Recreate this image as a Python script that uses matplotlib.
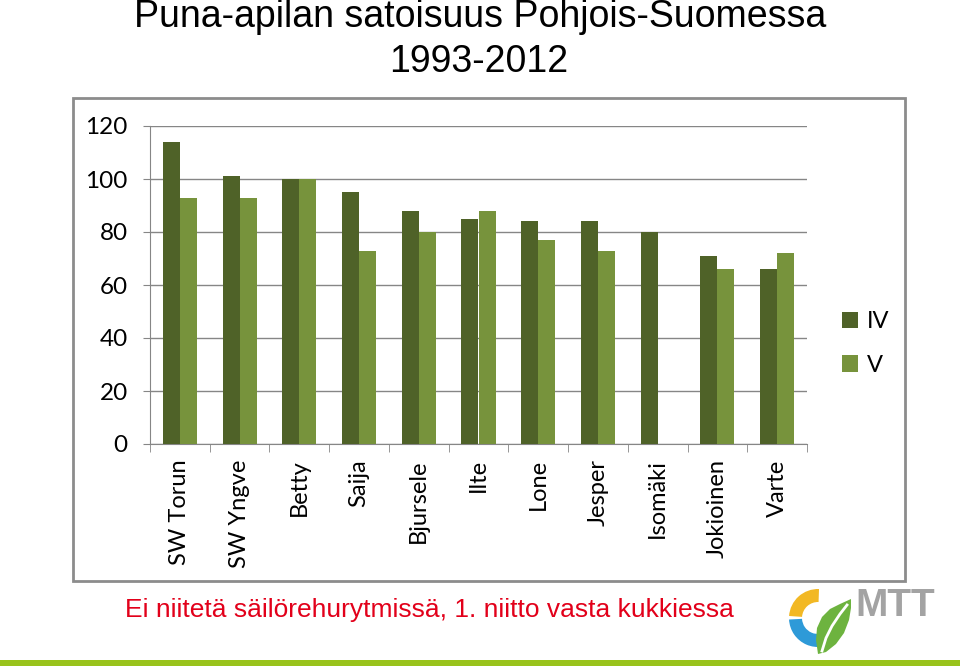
import matplotlib
matplotlib.use("Agg")
import matplotlib.pyplot as plt
import numpy as np
from matplotlib.patches import Rectangle, Wedge, Polygon

categories = ["SW Torun", "SW Yngve", "Betty", "Saija", "Bjursele", "Ilte",
              "Lone", "Jesper", "Isomäki", "Jokioinen", "Varte"]
iv_values = [114, 101, 100, 95, 88, 85, 84, 84, 80, 71, 66]
v_values = [93, 93, 100, 73, 80, 88, 77, 73, np.nan, 66, 72]
series_names = ["IV", "V"]
yticks = [0, 20, 40, 60, 80, 100, 120]

title1 = "Puna-apilan satoisuus Pohjois-Suomessa"
title2 = "1993-2012"
note = "Ei niitetä säilörehurytmissä, 1. niitto vasta kukkiessa"

dark = "#4F6228"
light = "#77933C"
gridc = "#868686"
tickfont = "Lato"

W, H = 960, 666
fig = plt.figure(figsize=(W / 100, H / 100), dpi=100)

# overlay for decorations (pixel coordinates)
ov = fig.add_axes([0, 0, 1, 1])
ov.set_xlim(0, W)
ov.set_ylim(H, 0)
ov.axis("off")
ov.add_patch(Rectangle((73, 98), 832, 483, fill=False, edgecolor="#8C8C8C", lw=2))
ov.add_patch(Rectangle((0, 660), W, 6, facecolor="#99C31C", edgecolor="none"))
# logo
cx, cy = 818, 618
ov.add_patch(Wedge((cx, cy), 29, 50, 177, width=13, facecolor="#2E9AD8", edgecolor="none"))
ov.add_patch(Wedge((cx, cy), 29, 184, 272, width=13, facecolor="#F2B824", edgecolor="none"))
ov.add_patch(Polygon([(818, 654), (816, 640), (817, 628), (822, 617), (830, 609),
                      (840, 604), (851, 599), (851, 608), (849, 620), (844, 633),
                      (836, 644), (826, 652)],
                     closed=True, facecolor="#6DB33F", edgecolor="none"))
ov.plot([822, 826, 832, 840, 847], [651, 638, 626, 614, 605], color="white", lw=2)
ov.text(855, 606, "MTT", fontsize=28, fontweight="bold", color="#A3A3A3",
        family="Liberation Sans", ha="left", va="center")

fig.text(480 / W, 1 - 17 / H, title1, ha="center", va="center", fontsize=27,
         family="Liberation Sans", color="black")
fig.text(479 / W, 1 - 62 / H, title2, ha="center", va="center", fontsize=27,
         family="Liberation Sans", color="black")
fig.text(429 / W, 1 - 610 / H, note, ha="center", va="center", fontsize=19,
         family="Liberation Sans", color="#E2001A")

ax = fig.add_axes([150 / W, 1 - 444 / H, (807 - 150) / W, (444 - 126) / H])
x = np.arange(len(categories))
bw = 1 / 3.5
ax.bar(x - bw / 2, iv_values, bw, color=dark, label=series_names[0], zorder=3)
ax.bar(x + bw / 2, v_values, bw, color=light, label=series_names[1], zorder=3)

ax.set_xlim(-0.5, len(categories) - 0.5)
ax.set_ylim(0, 120)
ax.set_yticks(yticks)
ax.set_yticklabels([str(t) for t in yticks], fontsize=17.5, family=tickfont)
ax.yaxis.grid(True, color=gridc, lw=1, zorder=0)
ax.set_axisbelow(True)
for s in ["top", "right"]:
    ax.spines[s].set_visible(False)
ax.spines["left"].set_color(gridc)
ax.spines["bottom"].set_color(gridc)
ax.tick_params(axis="y", length=5, color=gridc, pad=11)
ax.set_xticks(x)
ax.set_xticklabels(categories, rotation=90, fontsize=17, family=tickfont,
                   ha="center", va="top")
ax.set_xticks(np.arange(-0.5, len(categories) + 0.5, 1), minor=True)
ax.tick_params(axis="x", which="major", length=0, pad=11)
ax.tick_params(axis="x", which="minor", length=6, color=gridc)

leg = fig.legend(loc="upper left", bbox_to_anchor=(821 / W, 1 - 290 / H),
                 frameon=False, prop={"family": tickfont, "size": 17},
                 handlelength=0.68, handleheight=0.68, handletextpad=0.35,
                 labelspacing=0.95)

fig.savefig("out.png", dpi=100)
